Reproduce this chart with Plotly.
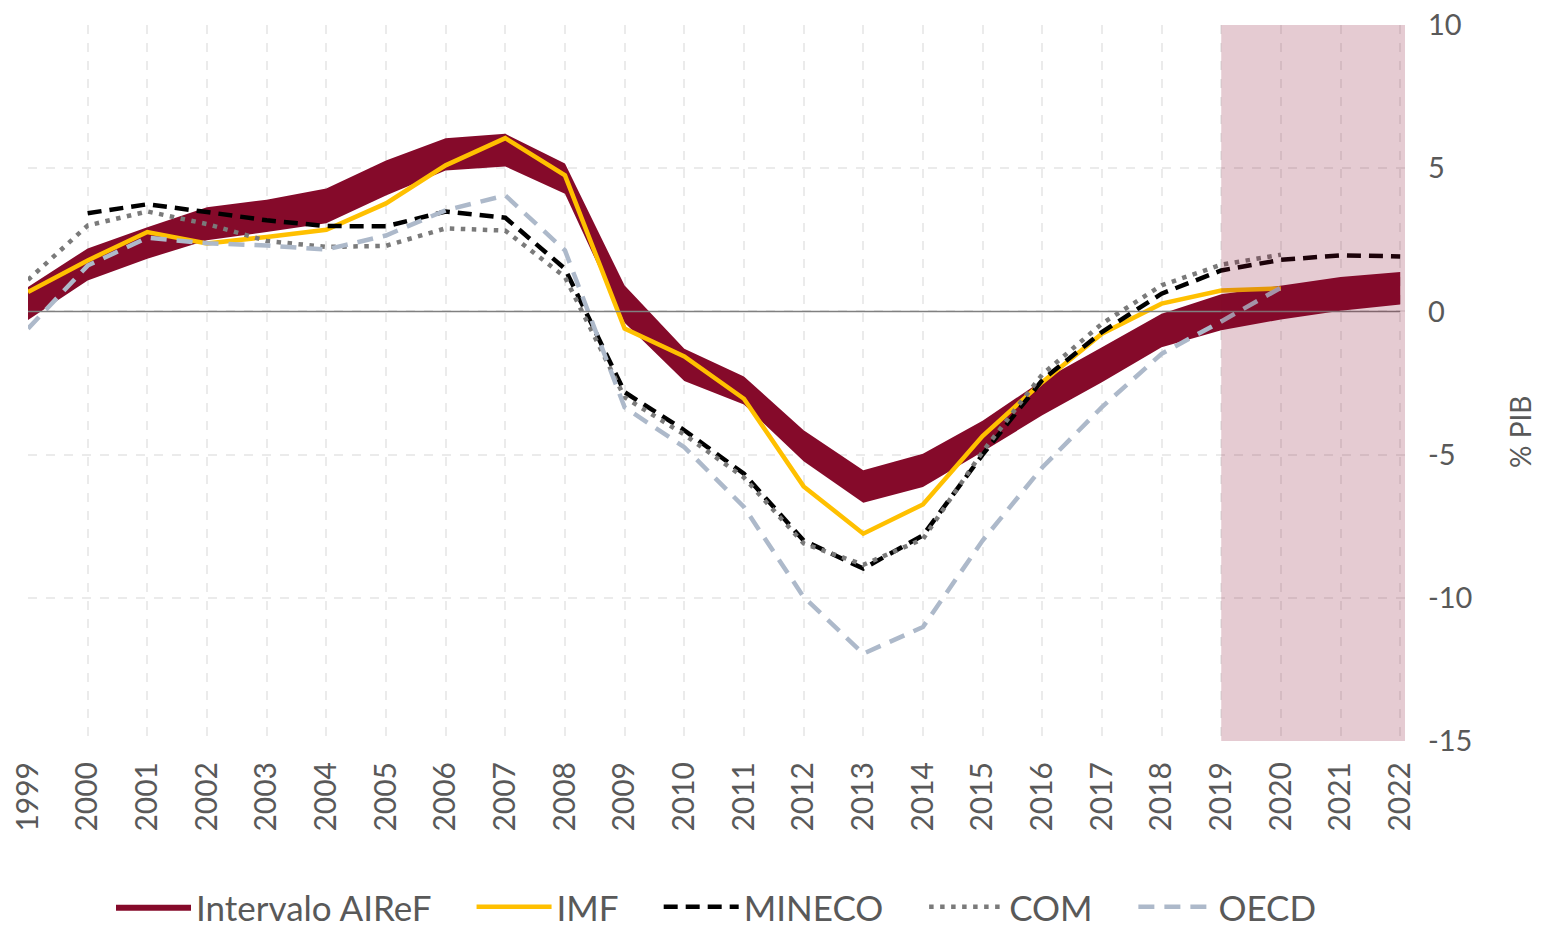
import plotly.graph_objects as go

years = list(range(1999, 2023))
year_labels = [str(y) for y in years]

band_low = [-0.3, 1.08, 1.84, 2.48, 2.77, 3.08, 4.05, 4.92, 5.06, 4.11, -0.4, -2.43,
            -3.25, -5.23, -6.68, -6.13, -4.9, -3.63, -2.47, -1.25, -0.66, -0.28, 0.02, 0.24]
band_high = [0.85, 2.2, 2.94, 3.64, 3.9, 4.29, 5.27, 6.05, 6.2, 5.16, 0.9, -1.3,
             -2.27, -4.15, -5.55, -4.97, -3.82, -2.41, -1.25, -0.08, 0.6, 0.91, 1.2, 1.38]

imf_years = list(range(1999, 2021))
imf = [0.68, 1.78, 2.77, 2.37, 2.6, 2.85, 3.77, 5.1, 6.05, 4.75, -0.6, -1.57,
       -3.05, -6.11, -7.76, -6.74, -4.35, -2.47, -0.78, 0.27, 0.73, 0.8]

mineco_years = list(range(2000, 2023))
mineco = [3.43, 3.74, 3.47, 3.18, 2.98, 2.97, 3.49, 3.27, 1.49, -2.82, -4.15, -5.67,
          -8.0, -8.98, -7.82, -5.0, -2.4, -0.72, 0.62, 1.43, 1.8, 1.96, 1.92]

com_years = list(range(1999, 2021))
com = [1.1, 3.0, 3.49, 3.05, 2.46, 2.25, 2.29, 2.9, 2.82, 1.2, -3.0, -4.3,
       -5.8, -8.1, -8.85, -7.95, -4.9, -2.2, -0.43, 0.91, 1.63, 1.98]

oecd_years = list(range(1999, 2021))
oecd = [-0.6, 1.6, 2.57, 2.38, 2.3, 2.16, 2.65, 3.53, 4.05, 2.13, -3.35, -4.74,
        -6.83, -9.97, -11.95, -11.02, -8.0, -5.45, -3.34, -1.48, -0.35, 0.83]

y_ticks = [10, 5, 0, -5, -10, -15]
y_tick_labels = ["10", "5", "0", "-5", "-10", "-15"]
series_names = ["Intervalo AIReF", "IMF", "MINECO", "COM", "OECD"]

BAND = "#850a2a"
FONT = "Lato"
TXT = "#595959"
X_MAX = 2022.08
PAD = "\u00a0" * 4


def legend_name(i):
    return series_names[i] + (PAD if i < len(series_names) - 1 else "")


fig = go.Figure()

fig.add_trace(go.Scatter(x=years, y=band_low, mode="lines", line=dict(width=0, color=BAND),
                         showlegend=False, hoverinfo="skip"))
fig.add_trace(go.Scatter(x=years, y=band_high, mode="lines", line=dict(width=0, color=BAND),
                         fill="tonexty", fillcolor=BAND, name=legend_name(0)))
fig.add_trace(go.Scatter(x=imf_years, y=imf, mode="lines", name=legend_name(1),
                         line=dict(color="#ffc000", width=4.5)))
fig.add_trace(go.Scatter(x=mineco_years, y=mineco, mode="lines", name=legend_name(2),
                         line=dict(color="#000000", width=4.5, dash="14px,8px")))
fig.add_trace(go.Scatter(x=com_years, y=com, mode="lines", name=legend_name(3),
                         line=dict(color="#7a7a7a", width=4.5, dash="4.5px,6.5px")))
fig.add_trace(go.Scatter(x=oecd_years, y=oecd, mode="lines", name=legend_name(4),
                         line=dict(color="#adb9ca", width=4.5, dash="16px,10px")))

# zero line above the band
fig.add_shape(type="line", xref="paper", x0=0, x1=(2022 - 1999) / (X_MAX - 1999), yref="y",
              y0=0, y1=0, line=dict(color="#808080", width=1.5), layer="above")
# forecast shading
fig.add_shape(type="rect", xref="x", x0=2019, x1=X_MAX, yref="paper", y0=0, y1=1,
              fillcolor=BAND, opacity=0.21, line=dict(width=0), layer="above")

fig.add_annotation(text="% PIB", xref="paper", yref="paper", x=1, y=0.4316,
                   xanchor="center", yanchor="middle", xshift=115, textangle=-90,
                   showarrow=False, font=dict(family=FONT, size=28, color=TXT))

fig.update_xaxes(range=[1999, X_MAX], tickvals=years, ticktext=year_labels, tickangle=-90,
                 showgrid=True, gridcolor="#ebebeb", griddash="dash", gridwidth=1.5,
                 zeroline=False, showline=False, ticks="", ticklabelstandoff=14,
                 automargin=False,
                 tickfont=dict(family=FONT, size=30, color=TXT))
fig.update_yaxes(range=[-15, 10], tickvals=y_ticks, ticktext=y_tick_labels, side="right",
                 showgrid=True, gridcolor="#ebebeb", griddash="dash", gridwidth=1.5,
                 zeroline=False, showline=False, ticks="", ticklabelstandoff=22,
                 automargin=False,
                 tickfont=dict(family=FONT, size=29, color=TXT))

fig.update_layout(
    width=1542, height=927,
    margin=dict(l=28, r=137, t=25, b=186, autoexpand=False),
    plot_bgcolor="white", paper_bgcolor="white",
    font=dict(family=FONT, color=TXT),
    legend=dict(orientation="h", x=0.5, xanchor="center", y=-0.232, yanchor="middle",
                font=dict(family=FONT, size=35, color=TXT), itemwidth=75,
                traceorder="normal", bgcolor="rgba(0,0,0,0)"),
)

fig.write_html("out.html", config={"displayModeBar": False},
               post_script="document.body.style.margin='0';document.body.style.overflow='hidden';")
